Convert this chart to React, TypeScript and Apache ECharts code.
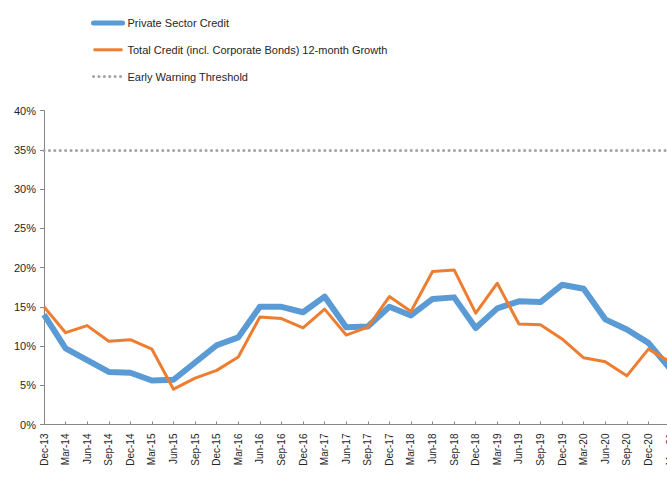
import React, { useEffect, useRef } from "react";
import * as echarts from "echarts";

const categories = [
  "Dec-13", "Mar-14", "Jun-14", "Sep-14", "Dec-14", "Mar-15", "Jun-15", "Sep-15",
  "Dec-15", "Mar-16", "Jun-16", "Sep-16", "Dec-16", "Mar-17", "Jun-17", "Sep-17",
  "Dec-17", "Mar-18", "Jun-18", "Sep-18", "Dec-18", "Mar-19", "Jun-19", "Sep-19",
  "Dec-19", "Mar-20", "Jun-20", "Sep-20", "Dec-20", "Mar-21",
];

const privateSectorCredit = [
  14.0, 9.7, 8.2, 6.7, 6.6, 5.6, 5.7, 7.9, 10.1, 11.1, 15.0, 15.0, 14.3, 16.3, 12.4,
  12.5, 15.0, 13.9, 16.0, 16.2, 12.3, 14.8, 15.7, 15.6, 17.8, 17.3, 13.4, 12.1, 10.4, 7.1,
];

const totalCredit = [
  15.0, 11.7, 12.6, 10.6, 10.8, 9.6, 4.5, 5.9, 6.9, 8.6, 13.7, 13.5, 12.3, 14.7, 11.4,
  12.4, 16.3, 14.4, 19.5, 19.7, 14.2, 18.0, 12.8, 12.7, 10.9, 8.5, 8.0, 6.2, 9.6, 8.0,
];

const earlyWarningThreshold = 35;

const yTicks = { min: 0, max: 40, interval: 5 };

const seriesNames = [
  "Private Sector Credit",
  "Total Credit (incl. Corporate Bonds) 12-month Growth",
  "Early Warning Threshold",
];

const FONT = "'Liberation Sans', Arial, sans-serif";
const TEXT = "#262626";
const AXIS = "#868686";
const BLUE = "#5B9BD5";
const ORANGE = "#ED7D31";
const GREY = "#A5A5A5";
const DOTS = [0.1, 5.3];
const HIDDEN_SYMBOL = { opacity: 0, color: "transparent", borderWidth: 0 };

export default function App() {
  const ref = useRef<HTMLDivElement>(null);

  useEffect(() => {
    if (!ref.current) return;
    const chart = echarts.init(ref.current, null, { renderer: "svg" });
    chart.setOption({
      animation: false,
      backgroundColor: "#ffffff",
      textStyle: { fontFamily: FONT },
      legend: {
        orient: "vertical",
        left: 91,
        top: 17.5,
        padding: 0,
        itemWidth: 29,
        itemHeight: 14,
        itemGap: 15.5,
        selectedMode: false,
        textStyle: { fontSize: 11, color: TEXT, fontFamily: FONT },
        data: [
          { name: seriesNames[0], lineStyle: { width: 5, cap: "round" }, itemStyle: HIDDEN_SYMBOL },
          { name: seriesNames[1], lineStyle: { width: 3 }, itemStyle: HIDDEN_SYMBOL },
          { name: seriesNames[2], lineStyle: { width: 3, cap: "round" }, itemStyle: HIDDEN_SYMBOL },
        ],
      },
      grid: {
        left: 44,
        right: -3,
        top: 110.6,
        bottom: 62.5,
        containLabel: false,
        outerBoundsMode: "none",
      },
      xAxis: {
        type: "category",
        data: categories,
        boundaryGap: false,
        axisLine: { lineStyle: { color: AXIS, width: 1 } },
        axisTick: { show: true, inside: true, length: 3, interval: 0, lineStyle: { color: AXIS } },
        axisLabel: {
          rotate: 90,
          interval: 0,
          fontSize: 10,
          margin: 9,
          color: TEXT,
          fontFamily: FONT,
          hideOverlap: false,
        },
        splitLine: { show: false },
      },
      yAxis: {
        type: "value",
        min: yTicks.min,
        max: yTicks.max,
        interval: yTicks.interval,
        axisLine: { show: true, lineStyle: { color: AXIS, width: 1 } },
        axisTick: { show: true, inside: false, length: 4, lineStyle: { color: AXIS } },
        axisLabel: {
          formatter: "{value}%",
          fontSize: 11,
          margin: 8,
          color: TEXT,
          fontFamily: FONT,
        },
        splitLine: { show: false },
      },
      series: [
        {
          name: seriesNames[0],
          type: "line",
          data: privateSectorCredit,
          symbol: "none",
          color: BLUE,
          lineStyle: { color: BLUE, width: 6, join: "round" },
          z: 2,
        },
        {
          name: seriesNames[1],
          type: "line",
          data: totalCredit,
          symbol: "none",
          color: ORANGE,
          lineStyle: { color: ORANGE, width: 3, join: "round" },
          z: 3,
        },
        {
          name: seriesNames[2],
          type: "line",
          data: [],
          symbol: "none",
          color: GREY,
          lineStyle: { color: GREY, width: 3, type: DOTS, cap: "round" },
          markLine: {
            silent: true,
            symbol: ["none", "none"],
            label: { show: false },
            lineStyle: { color: GREY, width: 3, type: DOTS, cap: "round" },
            data: [{ yAxis: earlyWarningThreshold }],
          },
          z: 1,
        },
      ],
    });
    return () => chart.dispose();
  }, []);

  return (
    <div
      ref={ref}
      style={{ position: "absolute", left: 0, top: 0, width: 667, height: 487 }}
    />
  );
}
